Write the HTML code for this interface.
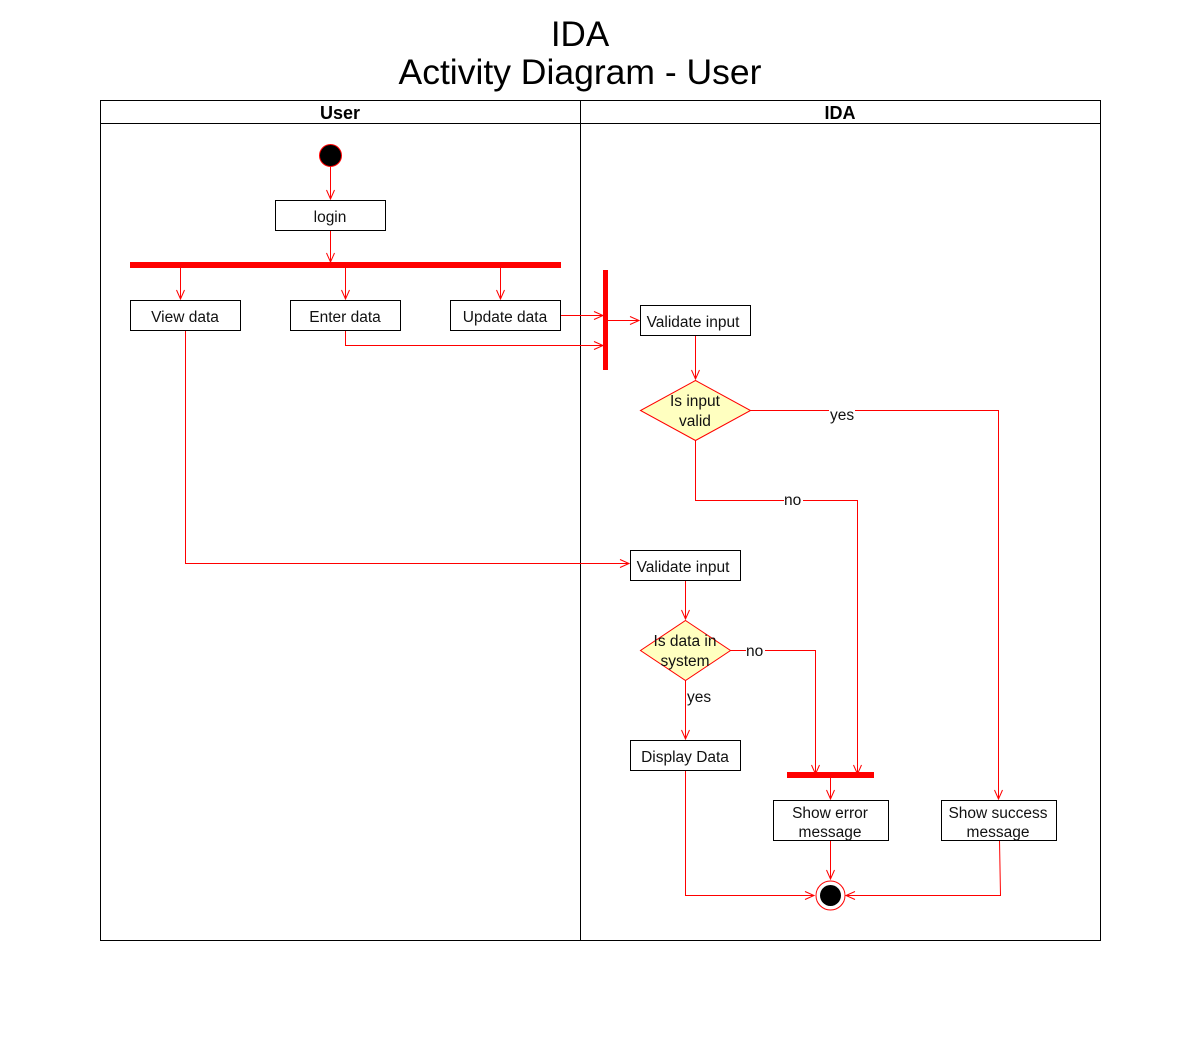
<!DOCTYPE html>
<html><head><meta charset="utf-8"><style>body{margin:0;background:#fff}svg{display:block}</style></head>
<body>
<svg width="1202" height="1042" viewBox="0 0 1202 1042" xmlns="http://www.w3.org/2000/svg" font-family="Liberation Sans, Arial, sans-serif">
<defs>
<marker id="a" markerWidth="12" markerHeight="12" refX="10" refY="5" orient="auto" markerUnits="userSpaceOnUse">
<path d="M1,1 L10,5 L1,9" fill="none" stroke="#f00" stroke-width="1"/>
</marker>
</defs>
<text x="580" y="46" font-size="35" text-anchor="middle">IDA</text>
<text x="580" y="84" font-size="35.5" text-anchor="middle">Activity Diagram - User</text>
<rect x="100.5" y="100.5" width="1000" height="840" fill="none" stroke="#000"/>
<line x1="100" y1="123.5" x2="1101" y2="123.5" stroke="#000"/>
<line x1="580.5" y1="100" x2="580.5" y2="941" stroke="#000"/>
<text x="340" y="119" font-size="18" font-weight="bold" text-anchor="middle">User</text>
<text x="840" y="119" font-size="18" font-weight="bold" text-anchor="middle">IDA</text>

<g fill="none" stroke="#f00" stroke-width="1">
<line x1="330.5" y1="166" x2="330.5" y2="199" marker-end="url(#a)"/>
<line x1="330.5" y1="230" x2="330.5" y2="262" marker-end="url(#a)"/>
<line x1="180.5" y1="268" x2="180.5" y2="299" marker-end="url(#a)"/>
<line x1="345.5" y1="268" x2="345.5" y2="299" marker-end="url(#a)"/>
<line x1="500.5" y1="268" x2="500.5" y2="299" marker-end="url(#a)"/>
<line x1="560" y1="315.5" x2="603" y2="315.5" marker-end="url(#a)"/>
<polyline points="345.5,330 345.5,345.5 603,345.5" marker-end="url(#a)"/>
<line x1="608" y1="320.5" x2="639" y2="320.5" marker-end="url(#a)"/>
<line x1="695.5" y1="335" x2="695.5" y2="379" marker-end="url(#a)"/>
<polyline points="750,410.5 998.5,410.5 998.5,799" marker-end="url(#a)"/>
<polyline points="695.5,440 695.5,500.5 857.5,500.5 857.5,774" marker-end="url(#a)"/>
<polyline points="185.5,330 185.5,563.5 629,563.5" marker-end="url(#a)"/>
<line x1="685.5" y1="580" x2="685.5" y2="619" marker-end="url(#a)"/>
<polyline points="730,650.5 815.5,650.5 815.5,774" marker-end="url(#a)"/>
<line x1="685.5" y1="680" x2="685.5" y2="739" marker-end="url(#a)"/>
<line x1="830.5" y1="777" x2="830.5" y2="799" marker-end="url(#a)"/>
<line x1="830.5" y1="840" x2="830.5" y2="879" marker-end="url(#a)"/>
<polyline points="685.5,770 685.5,895.5 814,895.5" marker-end="url(#a)"/>
<polyline points="999.5,840 1000.5,895.5 846,895.5" marker-end="url(#a)"/>
</g>

<circle cx="330.5" cy="155.5" r="11" fill="#000" stroke="#f00"/>
<rect x="130" y="262" width="431" height="6" fill="#f00"/>
<rect x="603" y="270" width="5" height="100" fill="#f00"/>
<rect x="787" y="772" width="87" height="6" fill="#f00"/>
<circle cx="830.5" cy="895.5" r="14.5" fill="#fff" stroke="#f00"/>
<circle cx="830.5" cy="895.5" r="10.5" fill="#000"/>

<g fill="#fff" stroke="#000">
<rect x="275.5" y="200.5" width="110" height="30"/>
<rect x="130.5" y="300.5" width="110" height="30"/>
<rect x="290.5" y="300.5" width="110" height="30"/>
<rect x="450.5" y="300.5" width="110" height="30"/>
<rect x="640.5" y="305.5" width="110" height="30"/>
<rect x="630.5" y="550.5" width="110" height="30"/>
<rect x="630.5" y="740.5" width="110" height="30"/>
<rect x="773.5" y="800.5" width="115" height="40"/>
<rect x="941.5" y="800.5" width="115" height="40"/>
</g>
<polygon points="695.5,380.5 750.5,410.5 695.5,440.5 640.5,410.5" fill="#ffffc0" stroke="#f00"/>
<polygon points="685.5,620.5 730.5,650.5 685.5,680.5 640.5,650.5" fill="#ffffc0" stroke="#f00"/>

<g font-size="15.5" text-anchor="middle" fill="#111">
<text x="330" y="222">login</text>
<text x="185" y="322">View data</text>
<text x="345" y="322">Enter data</text>
<text x="505" y="322">Update data</text>
<text x="693" y="327">Validate input</text>
<text x="683" y="572">Validate input</text>
<text x="685" y="762">Display Data</text>
<text x="830" y="818">Show error</text>
<text x="830" y="837">message</text>
<text x="998" y="818">Show success</text>
<text x="998" y="837">message</text>
<text x="695" y="406">Is input</text>
<text x="695" y="426">valid</text>
<text x="685" y="646">Is data in</text>
<text x="685" y="666">system</text>
</g>
<g font-size="15.5" fill="#111">
<rect x="829" y="404" width="26" height="14" fill="#fff"/>
<text x="830" y="420">yes</text>
<rect x="784" y="493" width="19" height="14" fill="#fff"/>
<text x="784" y="505">no</text>
<rect x="746" y="644" width="19" height="14" fill="#fff"/>
<text x="746" y="656">no</text>
<text x="687" y="702">yes</text>
</g>
</svg>
</body></html>
